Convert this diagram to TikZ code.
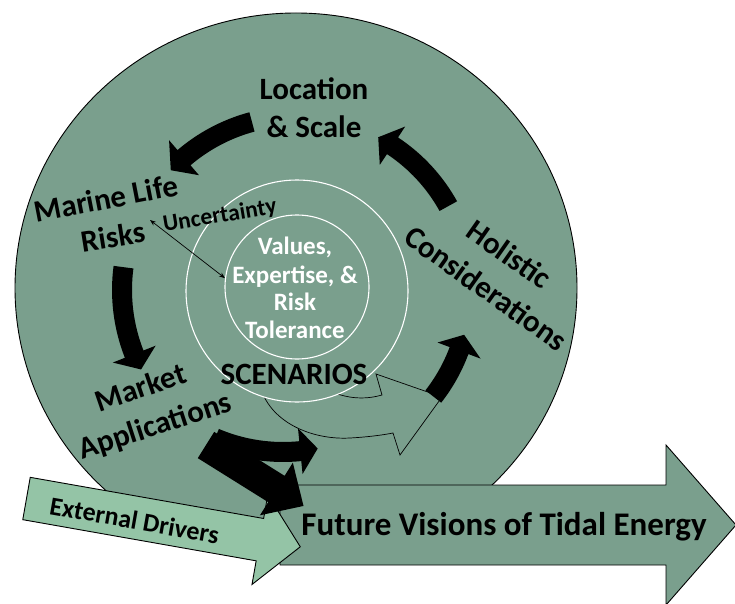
\documentclass[tikz,border=0pt]{standalone}
\usepackage{fontspec}
\setmainfont{Carlito}
\usetikzlibrary{arrows.meta}
\definecolor{sea}{HTML}{7A9F8D}
\definecolor{sealight}{HTML}{94C4A6}
% curved block arrow on a circle: #1 centre, #2 radius, #3 tail angle, #4 head-base angle, #5 tip angle
\newcommand\blockarc[5]{%
  \pgfmathsetmacro\bA{-(#3)}\pgfmathsetmacro\bB{-(#4)}\pgfmathsetmacro\bT{-(#5)}%
  \pgfmathsetmacro\rO{#2+10}\pgfmathsetmacro\rI{#2-10}%
  \pgfmathsetmacro\hO{#2+23}\pgfmathsetmacro\hI{#2-23}%
  \fill[black] ([shift={(#1)}]\bA:\rO) arc[start angle=\bA, end angle=\bB, radius=\rO]
    -- ([shift={(#1)}]\bB:\hO) -- ([shift={(#1)}]\bT:#2) -- ([shift={(#1)}]\bB:\hI)
    -- ([shift={(#1)}]\bB:\rI) arc[start angle=\bB, end angle=\bA, radius=\rI] -- cycle;}
\begin{document}
\begin{tikzpicture}[x=1pt,y=-1pt,
  lbl/.style={font=\bfseries\fontsize{31}{37}\selectfont, text=black, inner sep=0pt, anchor=base},
  corelbl/.style={font=\bfseries\fontsize{25}{28}\selectfont, text=white, inner sep=0pt, anchor=base},
  unclbl/.style={font=\fontsize{23.5}{26}\selectfont\bfseries, text=black, inner sep=0pt, anchor=base},
  futlbl/.style={font=\bfseries\fontsize{33}{38}\selectfont, text=black, inner sep=0pt, anchor=base},
  extlbl/.style={font=\bfseries\fontsize{26}{30}\selectfont, text=black, inner sep=0pt, anchor=base},
  outl/.style={draw=black, line width=0.9pt},
  ring/.style={circle, draw=white, line width=1.1pt, inner sep=0pt}]
\useasboundingbox (0,0) rectangle (735,604);
\fill[white] (0,0) rectangle (735,604);
% big disc
\filldraw[fill=sea, outl] (296,288) ellipse [x radius=281, y radius=275];
% hollow curved arrow below the rings
\filldraw[fill=sea, draw=black, line width=0.7pt] (262,392) .. controls (275,425) and (315,440) .. (350,438)
  .. controls (368,437) and (383,435) .. (393,433) -- (400,455) -- (442,397) -- (376,374) -- (382,395)
  .. controls (368,399) and (350,400) .. (330,391) -- cycle;
% rings
\node[ring, fill=sea, minimum size=222pt] (ringnode) at (297,291) {};
\node[ring, minimum size=144pt] (core) at (297,287) {};
% cycle arrows
\coordinate (C) at (297,290);
\blockarc{C}{174}{105}{130.5}{136.5}
\blockarc{C}{175}{172.5}{201.5}{207}
\blockarc{C}{173}{29}{56.5}{62}
\blockarc{C}{173}{-38}{-20.5}{-15}
% future visions arrow
\filldraw[fill=sea, outl] (280,485) -- (666,485) -- (666,445) -- (736,525) -- (666,605) -- (666,565) -- (280,565) -- cycle;
% external drivers arrow
\begin{scope}[shift={(26.5,498.5)}, rotate=-10]
\filldraw[fill=sealight, outl] (0,-21.5) -- (237,-21.5) -- (237,-45.5) -- (278,0) -- (237,45.5) -- (237,21.5) -- (0,21.5) -- cycle;
\end{scope}
% black arrows from market applications
\coordinate (Ca) at (283,278);
\blockarc{Ca}{174}{247}{275.7}{281.5}
\begin{scope}[shift={(206,445)}, rotate=-32]
\fill[black] (0,-15.5) -- (83,-15.5) -- (83,-31) -- (115,0) -- (83,31) -- (83,15.5) -- (0,15.5) -- cycle;
\end{scope}
% labels
\node[lbl] (loc1) at (314,100) {Location};
\node[lbl] (loc2) at (314,138) {\& Scale};
\node[lbl, rotate=11] (mar1) at (108,209) {Marine Life};
\node[lbl, rotate=9] (mar2) at (114.5,247) {Risks};
\node[lbl, rotate=19] (mkt1) at (144,397.5) {Market};
\node[lbl, rotate=18] (mkt2) at (158,435) {Applications};
\node[lbl, rotate=-35] (hol1) at (503,263) {Holistic};
\node[lbl, rotate=-35.4] (hol2) at (480,297) {Considerations};
\node[lbl] (scen) at (294,384) {SCENARIOS};
\node[unclbl, rotate=9.5] (unc) at (221,222.5) {Uncertainty};
\node[corelbl] (v1) at (295,254) {Values,};
\node[corelbl] (v2) at (295,283) {Expertise, \&};
\node[corelbl] (v3) at (295,310) {Risk};
\node[corelbl] (v4) at (295,338) {Tolerance};
\node[futlbl] (fut) at (504,535) {Future Visions of Tidal Energy};
\node[extlbl, rotate=-10] (ext) at (133,529) {External Drivers};
% uncertainty link
\coordinate (uncTail) at (150,220);
\draw[{Stealth[length=6pt,width=4.5pt]}-{Stealth[length=6pt,width=4.5pt]}, line width=0.7pt] (uncTail) -- (core.173);
\end{tikzpicture}
\end{document}
